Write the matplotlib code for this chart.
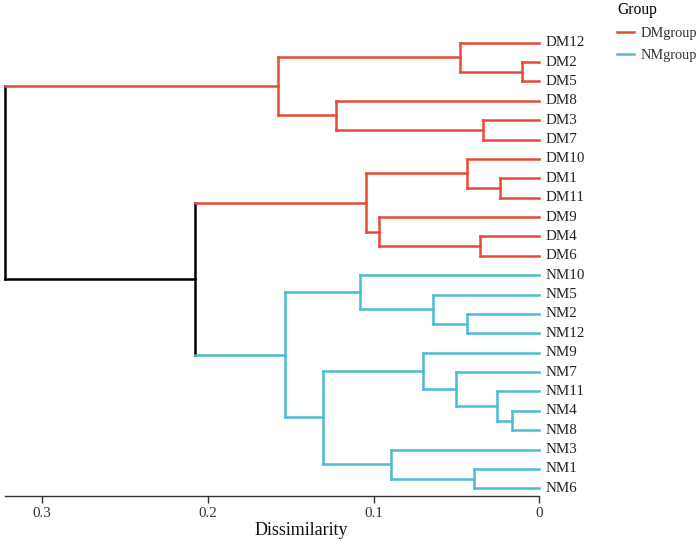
import matplotlib
matplotlib.use("Agg")
import matplotlib.pyplot as plt
from matplotlib.lines import Line2D
import numpy as np

plt.rcParams['font.family'] = ['Liberation Serif', 'DejaVu Serif']

# Data: leaf order (top to bottom) and merges
leaf_labels = ["DM12", "DM2", "DM5", "DM8", "DM3", "DM7",
               "DM10", "DM1", "DM11", "DM9", "DM4", "DM6",
               "NM10", "NM5", "NM2", "NM12", "NM9", "NM7",
               "NM11", "NM4", "NM8", "NM3", "NM1", "NM6"]

merge_ids = ["m1", "m2", "m3", "m4", "m5", "m6", "m7", "m8", "m9", "m10", "m11", "m12",
             "m13", "m14", "m15", "m16", "m17", "m18", "m19", "m20", "m21", "m22", "m23"]
merge_left = ["DM2", "DM12", "DM3", "DM8", "m2", "DM1", "DM10", "DM4", "DM9", "m7",
              "NM2", "NM5", "NM10", "NM4", "NM11", "NM7", "NM9", "NM1", "NM3", "m17",
              "m13", "m10", "m5"]
merge_right = ["DM5", "m1", "DM7", "m3", "m4", "DM11", "m6", "DM6", "m8", "m9",
               "NM12", "m11", "m12", "NM8", "m14", "m15", "m16", "NM6", "m18", "m19",
               "m20", "m21", "m22"]
merge_height = [0.0102, 0.0478, 0.0341, 0.1225, 0.1578, 0.0237, 0.0434, 0.0357, 0.0967, 0.1044,
                0.0434, 0.0642, 0.1080, 0.0166, 0.0253, 0.0502, 0.0699, 0.0393, 0.0893, 0.1305,
                0.1532, 0.2078, 0.3223]

group_names = ["DMgroup", "NMgroup"]
group_colors = {"DMgroup": "#E64B35", "NMgroup": "#4DBBD5"}

# positions of every node
pos_y = {lab: i for i, lab in enumerate(leaf_labels)}
pos_x = {lab: 0.0 for lab in leaf_labels}
grp = {lab: ("DMgroup" if lab.startswith("DM") else "NMgroup") for lab in leaf_labels}

fig = plt.figure(figsize=(7.0, 5.45), dpi=100)
W, H = 700, 545
ax = fig.add_axes([5 / W, 1 - 495.7 / H, (539.3 - 5) / W, (495.7 - 31) / H])

lw = 1.8
for mid, a, b, h in zip(merge_ids, merge_left, merge_right, merge_height):
    pos_x[mid] = h
    pos_y[mid] = (pos_y[a] + pos_y[b]) / 2
    grp[mid] = grp[a] if grp[a] == grp[b] else None
    col = group_colors.get(grp[mid], "black")
    ax.plot([h, h], [pos_y[a], pos_y[b]], color=col, lw=lw,
            solid_capstyle="projecting", clip_on=False, zorder=2)
    for c in (a, b):
        ccol = group_colors.get(grp[c], "black")
        ax.plot([h, pos_x[c]], [pos_y[c], pos_y[c]], color=ccol, lw=lw,
                solid_capstyle="projecting", clip_on=False, zorder=3 if grp[c] else 2)

for lab in leaf_labels:
    ax.annotate(lab, xy=(0, pos_y[lab]), xytext=(4.5, 0), textcoords="offset points",
                va="center", ha="left", fontsize=10.8, color="#222222",
                annotation_clip=False)

ax.set_xlim(0.3223, 0)
ax.set_ylim(23.38, -0.6)
ax.set_xticks([0.3, 0.2, 0.1, 0])
ax.set_xticklabels(["0.3", "0.2", "0.1", "0"])
ax.tick_params(axis="x", direction="out", length=5, width=1, colors="#333333",
               labelsize=10.8, labelcolor="#333333", pad=2.8)
ax.set_yticks([])
for s in ["top", "right", "left"]:
    ax.spines[s].set_visible(False)
ax.spines["bottom"].set_color("#333333")
ax.spines["bottom"].set_linewidth(1)

fig.text(301 / W, 1 - 530.5 / H, "Dissimilarity", ha="center", va="center",
         fontsize=13, color="#111111")

handles = [Line2D([0], [0], color=group_colors[g], lw=lw) for g in group_names]
leg = fig.legend(handles, group_names, title="Group", loc="upper left",
                 bbox_to_anchor=(617 / W, 1.0 - 2 / H), frameon=False,
                 fontsize=10.4, title_fontsize=11.2, handlelength=1.2,
                 handletextpad=0.4, labelspacing=0.62, alignment="left",
                 borderaxespad=0, borderpad=0)
for t in leg.get_texts():
    t.set_color("#333333")

fig.savefig("out.png", dpi=100)
